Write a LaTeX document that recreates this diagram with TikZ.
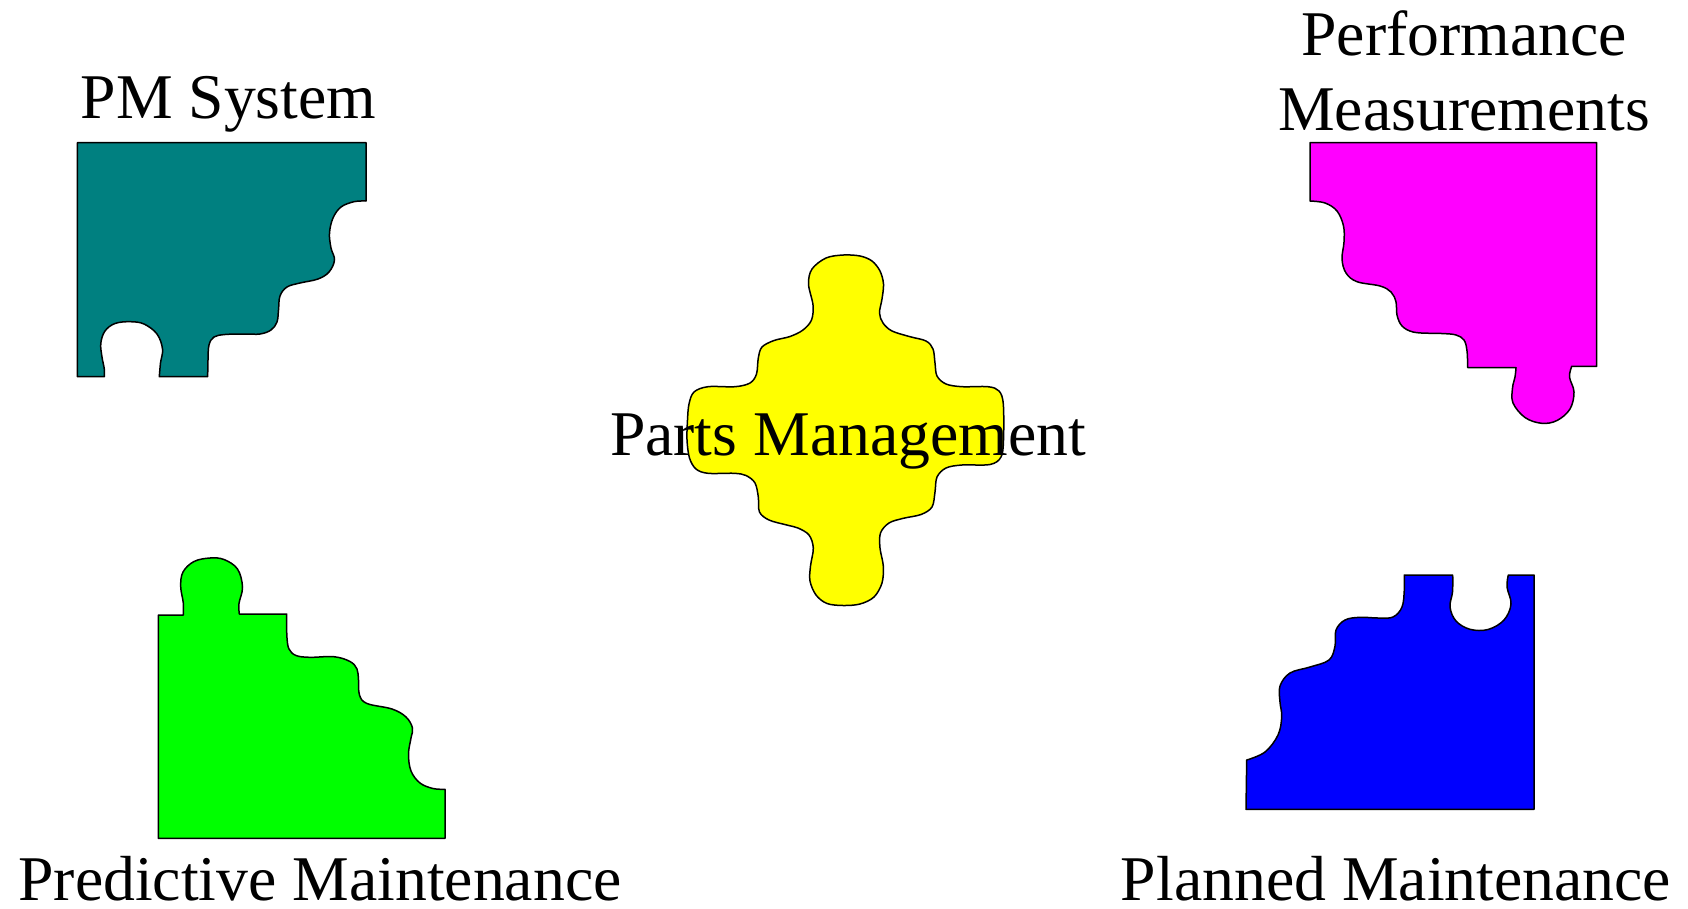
\documentclass[tikz,border=0pt]{standalone}
\usepackage{fontspec}
\setmainfont{Liberation Serif}
\definecolor{pmteal}{RGB}{0,128,128}
\definecolor{pmmag}{RGB}{255,0,255}
\definecolor{pmyel}{RGB}{255,255,0}
\definecolor{pmgreen}{RGB}{0,255,0}
\definecolor{pmblue}{RGB}{0,0,255}
\tikzset{
  piece/.style={draw=black, line width=1.5pt, line join=round},
  lbl/.style={font=\fontsize{63.7}{75}\selectfont, inner sep=0pt, anchor=base},
  wav/.style={smooth, tension=0.6}
}
\begin{document}
\begin{tikzpicture}[x=1pt,y=-1pt]
\useasboundingbox[fill=white] (0,0) rectangle (1688,908);

% PM System (teal)
\draw[piece, fill=pmteal] (77.3,142.7) -- (366,142.7) -- (366,201)
  -- plot[wav] coordinates {(366,201) (354,201.7) (341,207) (333,218) (329.5,233) (331,248) (334.5,260) (329,272) (318,279) (300,283) (287,287) (280,296) (278.5,310) (277,322) (271,330) (260,334) (245,334) (225,334.5) (214,337) (209,345) (208,360) (207.7,376.7)}
  -- (159.3,376.7)
  -- plot[wav] coordinates {(159.3,376.7) (160.5,363) (162.5,349) (157,334) (144,324) (130,321.7) (115,323.5) (105,331) (100.8,343.3) (102,357) (104.3,369) (104.3,376.7)}
  -- (77.3,376.7) -- cycle;

% Performance Measurements (magenta)
\draw[piece, fill=pmmag] (1310,142.7) -- (1596.7,142.7) -- (1596.7,366.3) -- (1571.7,366.3)
  -- plot[wav] coordinates {(1571.7,366.3) (1569.5,377) (1574,392) (1570,409) (1557,420.5) (1541.7,423.3) (1525,417.5) (1513,403) (1512.5,388) (1515,377) (1516,367.7)}
  -- (1467.7,367.7)
  -- plot[wav] coordinates {(1467.7,367.7) (1467,351) (1464,340) (1456,335) (1444,333.6) (1430,333.3) (1413,332) (1402,326) (1397,315) (1396,302) (1391,292) (1380,286) (1357,281.7) (1346,273) (1342,259) (1344,242) (1343.5,226) (1337,211) (1325,203) (1310,201)}
  -- cycle;

% Parts Management (yellow)
\draw[piece, fill=pmyel] plot[smooth cycle, tension=0.55] coordinates {
  (843.3,255) (860,256) (872,261) (880,271) (883.5,284) (882,299) (879.5,313) (883,323) (892,331) (910,336.7) (926,341) (933,349) (935,363) (937,376) (946,384) (962,386.7) (988,386.7) (999,391) (1003.3,404) (1003.5,440) (1001,457) (990,464.5) (962,465) (946,468) (937,477) (935,492) (932,507) (921,514.5) (903.3,518.3) (889,523) (880.5,533) (880,548) (883.3,566) (882,583) (874,597) (860,604) (843.3,605.5)
  (827,603.5) (816,595) (810,581) (810.5,566) (813.3,548) (809,535) (798,528) (786.7,525) (769,520) (759.5,512) (758.3,497) (755,483) (746,475.5) (734,473.3) (708,473.3) (696,469) (689.5,458) (687,440) (687.5,420) (689,404) (694,392) (708,386.7) (735,386.7) (750,383) (756.5,374) (758.3,358) (762,347) (774,340.5) (790,336.5) (803,330) (811.5,320) (813,305) (808.5,284) (812,269) (826,258)};

% Predictive Maintenance (green)
\draw[piece, fill=pmgreen] (158.3,838.3) -- (445,838.3) -- (445,789.3)
  -- plot[wav] coordinates {(445,789.3) (433,788.5) (420,783) (411,771) (408.5,754) (411,738) (412.5,728) (406,717) (392,709) (367,703.5) (359.5,695) (358.5,680) (357,669) (350,661.5) (334,656.7) (310,657.3) (296,655.5) (289,649) (287,638) (286.7,626) (286.7,614)}
  -- (239.3,614)
  -- plot[wav] coordinates {(239.3,614) (239,603.5) (242.5,587) (237.5,569) (224,559.5) (210,558) (194,561.5) (183,572) (180.7,586.5) (183.3,603) (183.3,615)}
  -- (158.3,615) -- cycle;

% Planned Maintenance (blue)
\draw[piece, fill=pmblue] (1246,809.3) -- (1534,809.3) -- (1534,575) -- (1508.3,575)
  -- plot[wav] coordinates {(1508.3,575) (1507,587) (1511,604) (1504,620) (1488,629.5) (1470,629.3) (1456,621) (1450,607) (1452.5,592) (1452.7,575)}
  -- (1404.3,575)
  -- plot[wav] coordinates {(1404.3,575) (1404.3,590) (1402,607) (1393,617) (1378,618) (1360,617.3) (1345,620) (1336,630) (1335,646) (1329,660) (1310,667) (1290,673) (1280,686) (1280,702) (1281.7,716.7) (1278,735) (1265,752) (1246.7,760)}
  -- cycle;

% labels
\node[lbl] (pmsys) at (228.5,118) {PM System};
\node[lbl, align=center] (perf) at (1464,130) {Performance\\Measurements};
\node[lbl] (parts) at (848,455) {Parts Management};
\node[lbl] (pred) at (320,900) {Predictive Maintenance};
\node[lbl] (plan) at (1396,900) {Planned Maintenance};
\end{tikzpicture}
\end{document}
